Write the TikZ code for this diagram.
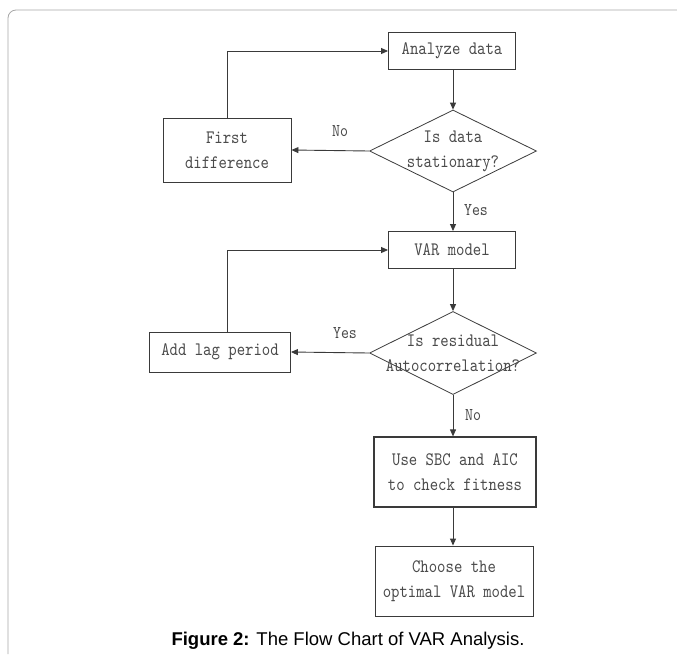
\documentclass[tikz,border=0pt]{standalone}
\usepackage{fontspec}
\setmainfont{Liberation Sans}
\newfontfamily\boxfont[FakeStretch=0.84]{lmmono10-regular.otf}
\usetikzlibrary{shapes.geometric,arrows.meta}
\definecolor{linec}{HTML}{3A3A3A}
\definecolor{textc}{HTML}{4A4A4A}
\tikzset{
  x=1pt,y=-1pt,
  boxn/.style={draw=linec,line width=0.9pt,minimum width=#1,inner sep=0pt,align=center,
     font=\boxfont\fontsize{19}{25}\selectfont,text=textc},
  dia/.style={draw=linec,line width=0.8pt,shape=diamond,inner sep=0pt},
  dtext/.style={align=center,font=\boxfont\fontsize{19}{25}\selectfont,text=textc,inner sep=0pt},
  lbl/.style={font=\boxfont\fontsize{18}{22}\selectfont,text=textc,inner sep=0pt},
  conn/.style={draw=linec,line width=0.9pt,-{Triangle[length=7pt,width=6pt]}}
}
\begin{document}
\begin{tikzpicture}
\useasboundingbox (0,0) rectangle (677,654);
\draw[gray!70,line width=0.8pt,rounded corners=8pt] (8,654) -- (8,10) -- (677,10);
% nodes
\node[boxn=127pt,minimum height=37pt] (an) at (452,51) {Analyze data};
\node[dia,minimum width=167pt,minimum height=82pt] (d1) at (453,151) {};
\node[dtext] (d1t) at (453,151) {Is data\\stationary?};
\node[boxn=128pt,minimum height=64pt] (fd) at (227,150) {First\\difference};
\node[boxn=127pt,minimum height=37pt] (var) at (452,250) {VAR model};
\node[dia,minimum width=167pt,minimum height=83pt] (d2) at (453,353) {};
\node[dtext] (d2t) at (453,353) {Is residual\\Autocorrelation?};
\node[boxn=141pt,minimum height=40pt] (alp) at (220,352) {Add lag period};
\node[boxn=162pt,minimum height=70pt,line width=1.2pt] (sbc) at (455,472) {Use SBC and AIC\\to check fitness};
\node[boxn=158pt,minimum height=70pt] (ch) at (454,581) {Choose the\\optimal VAR model};
% connectors
\draw[conn] (an.south -| d1.north) -- (d1.north);
\draw[conn] (d1.west) -- (fd.east);
\draw[conn] (fd.north) |- (an.west);
\draw[conn] (d1.south) -- (var.north -| d1.south);
\draw[conn] (var.south -| d2.north) -- (d2.north);
\draw[conn] (d2.west) -- (alp.east);
\draw[conn] (alp.north -| fd.north) |- (var.west);
\draw[conn] (d2.south) -- (sbc.north -| d2.south);
\draw[conn] (sbc.south -| d2.south) -- (ch.north -| d2.south);
% labels
\node[lbl] (l1) at (340,131) {No};
\node[lbl] (l2) at (476,210) {Yes};
\node[lbl] (l3) at (345,333) {Yes};
\node[lbl] (l4) at (473,415) {No};
% caption
\node[font=\fontsize{18.5}{22}\selectfont,text=black] (cap) at (348,641) {\textbf{Figure 2:} The Flow Chart of VAR Analysis.};
\end{tikzpicture}
\end{document}
